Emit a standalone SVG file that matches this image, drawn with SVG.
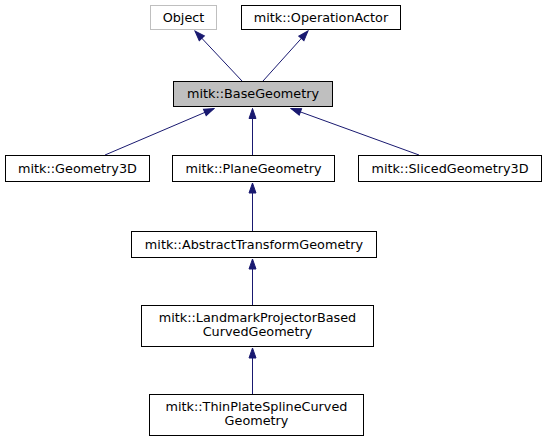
<svg xmlns="http://www.w3.org/2000/svg" width="545" height="440" viewBox="0 0 545 440">
<style>
  .box { fill: #ffffff; stroke: #000000; stroke-width: 1; }
  .grey { stroke: #bfbfbf; }
  .hl { fill: #bfbfbf; }
  text { font-family: "DejaVu Sans", "Liberation Sans", sans-serif; font-size: 12.8px; fill: #000000; text-anchor: middle; }
  .edge { stroke: #191970; stroke-width: 1; fill: none; marker-end: url(#arr); }
</style>
<defs>
  <marker id="arr" markerUnits="userSpaceOnUse" markerWidth="12" markerHeight="12" viewBox="-1 -6 12 12" refX="10" refY="0" orient="auto">
    <path d="M0,-3.5 L10,0 L0,3.5 Z" fill="#191970" stroke="#191970" stroke-width="1"/>
  </marker>
</defs>
<rect width="545" height="440" fill="#ffffff"/>
<g id="connectors">
  <line class="edge" x1="242" y1="81" x2="195" y2="31"/>
  <line class="edge" x1="263" y1="81" x2="308" y2="31"/>
  <line class="edge" x1="105" y1="155" x2="214" y2="108.5"/>
  <line class="edge" x1="252.5" y1="155" x2="252.5" y2="108.5"/>
  <line class="edge" x1="419" y1="155" x2="291" y2="108.5"/>
  <line class="edge" x1="252.5" y1="231" x2="252.5" y2="183"/>
  <line class="edge" x1="252.5" y1="305" x2="252.5" y2="259"/>
  <line class="edge" x1="252.5" y1="394" x2="252.5" y2="348"/>
</g>
<g id="node-object">
  <rect class="box grey" x="150.5" y="5.5" width="66" height="24"/>
  <text x="183.5" y="21.8">Object</text>
</g>
<g id="node-operationactor">
  <rect class="box" x="241.5" y="5.5" width="159" height="24"/>
  <text x="321" y="21.8">mitk::OperationActor</text>
</g>
<g id="node-basegeometry">
  <rect class="box hl" x="173.5" y="81.5" width="159" height="25"/>
  <text x="253" y="98.3">mitk::BaseGeometry</text>
</g>
<g id="node-geometry3d">
  <rect class="box" x="5.5" y="155.5" width="144" height="26"/>
  <text x="77.5" y="172.8">mitk::Geometry3D</text>
</g>
<g id="node-planegeometry">
  <rect class="box" x="172.5" y="155.5" width="162" height="26"/>
  <text x="253.5" y="172.8">mitk::PlaneGeometry</text>
</g>
<g id="node-slicedgeometry3d">
  <rect class="box" x="358.5" y="155.5" width="183" height="26"/>
  <text x="450" y="172.8">mitk::SlicedGeometry3D</text>
</g>
<g id="node-abstracttransformgeometry">
  <rect class="box" x="131.5" y="231.5" width="245" height="26"/>
  <text x="254" y="248.8">mitk::AbstractTransformGeometry</text>
</g>
<g id="node-landmarkprojector">
  <rect class="box" x="141.5" y="305.5" width="232" height="41"/>
  <text x="257.5" y="321.5">mitk::LandmarkProjectorBased</text>
  <text x="257.5" y="335.5">CurvedGeometry</text>
</g>
<g id="node-thinplate">
  <rect class="box" x="149.5" y="394.5" width="214" height="41"/>
  <text x="256.5" y="410.5">mitk::ThinPlateSplineCurved</text>
  <text x="256.5" y="424.5">Geometry</text>
</g>
</svg>
